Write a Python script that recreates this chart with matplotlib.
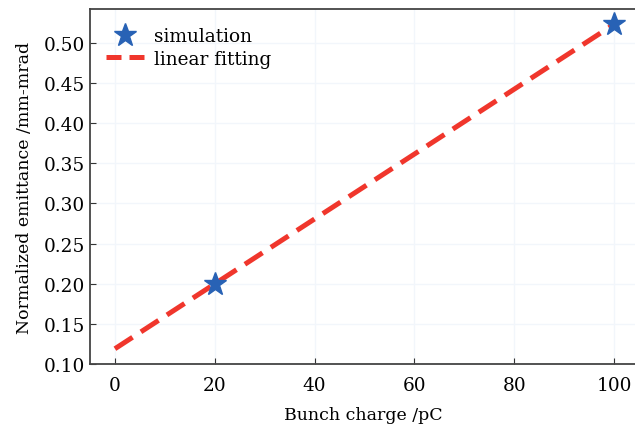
import numpy as np
import matplotlib
matplotlib.use("Agg")
import matplotlib.pyplot as plt
from matplotlib.lines import Line2D

# data
charge_sim = [20, 100]
emit_sim = [0.200, 0.523]
fit_x = [0, 100]
fit_y = [0.119, 0.523]

xticks = [0, 20, 40, 60, 80, 100]
yticks = [0.10, 0.15, 0.20, 0.25, 0.30, 0.35, 0.40, 0.45, 0.50]

plt.rcParams['font.family'] = ['DejaVu Serif']

fig = plt.figure(figsize=(6.35, 4.27), dpi=100)
ax = fig.add_axes([0.1417, 0.1452, 0.86, 0.8314])

ax.plot(fit_x, fit_y, color="#f0362c", lw=3.6, ls=(0, (4.2, 2.0)),
        zorder=3, dash_capstyle="butt")
ax.plot(charge_sim, emit_sim, ls="none", marker="*", ms=17, color="#2862b5",
        zorder=4)

ax.set_xlim(-5, 104.4)
ax.set_ylim(0.10, 0.542)
ax.set_xticks(xticks)
ax.set_yticks(yticks)
ax.set_yticklabels([f"{v:.2f}" for v in yticks])
ax.tick_params(direction="in", labelsize=13.3, color="#333333", length=4)
ax.tick_params(axis="x", pad=9)
ax.grid(True, color="#f2f6fb", lw=1)
ax.set_axisbelow(True)
for s in ax.spines.values():
    s.set_color("#444444")
    s.set_linewidth(1.3)

ax.set_xlabel("Bunch charge /pC", fontsize=12.5, labelpad=8)
ax.set_ylabel("Normalized emittance /mm-mrad", fontsize=12.5, labelpad=8)

# legend handles (shorter dashes so two dashes show, like the original)
h_sim = Line2D([], [], ls="none", marker="*", ms=17, color="#2862b5")
h_fit = Line2D([], [], color="#f0362c", lw=3.6, ls=(0, (3.0, 1.6)),
               dash_capstyle="butt")
ax.legend([h_sim, h_fit], ["simulation", "linear fitting"], loc="upper left",
          bbox_to_anchor=(0.005, 0.985), frameon=False, fontsize=13.3,
          handlelength=2.1, handletextpad=0.5, borderaxespad=0.3,
          labelspacing=0.25)

fig.savefig("out.png", dpi=100)
